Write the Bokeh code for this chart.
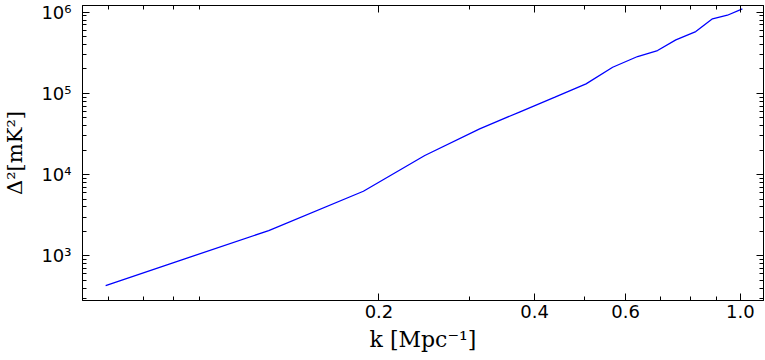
from bokeh.plotting import figure
from bokeh.models import FixedTicker, CustomJSTickFormatter, LogAxis, Range1d
from bokeh.embed import file_html
from bokeh.resources import INLINE

# Data
k = [0.0592, 0.1224, 0.1866, 0.2453, 0.3132, 0.3750, 0.4380, 0.5031,
     0.5664, 0.6329, 0.6918, 0.7505, 0.8202, 0.8836, 0.9443, 1.0094]
delta2 = [431, 2049, 6247, 17190, 36640, 59350, 89950, 131300,
          210200, 284800, 337600, 457100, 578500, 829000, 918400, 1101000]

x_ticks = [0.2, 0.4, 0.6, 1.0]
x_minor = [0.06, 0.07, 0.08, 0.09, 0.2, 0.3, 0.4, 0.5, 0.6, 0.7, 0.8, 0.9, 1.0]
y_ticks = [1e3, 1e4, 1e5, 1e6]
y_minor = [m * 10 ** e for e in range(2, 7) for m in range(1, 10)]

x_label = "k [Mpc\u207b\u00b9]"
y_label = "\u0394\u00b2[mK\u00b2]"

p = figure(width=765, height=360, x_axis_type="log", y_axis_type="log",
           x_range=Range1d(0.0534, 1.109), y_range=Range1d(282, 1.21e6),
           output_backend="svg", toolbar_location=None,
           min_border_left=80, min_border_right=2, min_border_top=5,
           min_border_bottom=60)

p.line(k, delta2, line_color="#0000ff", line_width=1.3)

p.xgrid.visible = False
p.ygrid.visible = False
p.outline_line_color = "black"
p.outline_line_width = 1
p.background_fill_color = "white"
p.border_fill_color = "white"

xfmt = CustomJSTickFormatter(code="return tick.toFixed(1);")
yfmt = CustomJSTickFormatter(code="""
const sup = {'0':'\u2070','1':'\u00b9','2':'\u00b2','3':'\u00b3','4':'\u2074','5':'\u2075','6':'\u2076','7':'\u2077','8':'\u2078','9':'\u2079','-':'\u207b'};
const e = Math.round(Math.log10(tick));
return '10' + String(e).split('').map(c => sup[c]).join('');
""")
blank = CustomJSTickFormatter(code="return '';")

def style(ax, ticks, minor, fmt, show_labels):
    ax.ticker = FixedTicker(ticks=ticks, minor_ticks=minor)
    ax.formatter = fmt
    ax.axis_line_color = "black"
    ax.axis_line_width = 1
    ax.major_tick_in = 7
    ax.major_tick_out = 0
    ax.minor_tick_in = 4
    ax.minor_tick_out = 0
    ax.major_tick_line_color = "black"
    ax.minor_tick_line_color = "black"
    ax.major_label_text_font = "DejaVu Sans"
    ax.major_label_text_color = "black"
    if show_labels:
        ax.major_label_text_font_size = "18px"
    else:
        ax.major_label_text_font_size = "0px"
        ax.major_label_standoff = 0

xa = p.xaxis[0]
ya = p.yaxis[0]
style(xa, x_ticks, x_minor, xfmt, True)
style(ya, y_ticks, y_minor, yfmt, True)
xa.major_label_standoff = 4
ya.major_label_standoff = 11
xa.axis_label = x_label
ya.axis_label = y_label
for ax in (xa, ya):
    ax.axis_label_text_font = "DejaVu Serif"
    ax.axis_label_text_font_style = "normal"
    ax.axis_label_text_color = "black"
xa.axis_label_text_font_size = "22px"
ya.axis_label_text_font_size = "21px"
xa.axis_label_standoff = 6
ya.axis_label_standoff = 11

top = LogAxis()
style(top, x_ticks, x_minor, blank, False)
right = LogAxis()
style(right, y_ticks, y_minor, blank, False)
p.add_layout(top, "above")
p.add_layout(right, "right")

open("out.html", "w").write(file_html(p, INLINE))
